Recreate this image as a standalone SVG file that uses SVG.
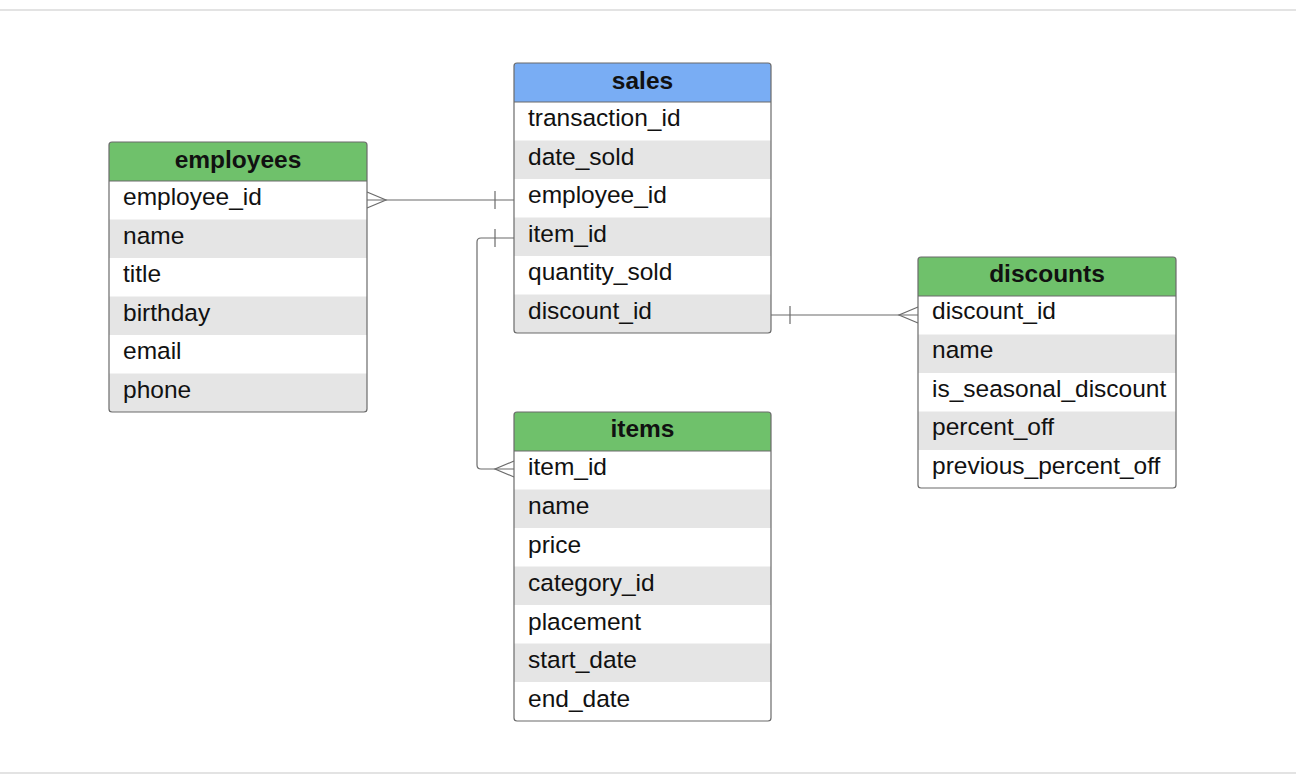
<svg xmlns="http://www.w3.org/2000/svg" width="1296" height="774" viewBox="0 0 1296 774">
<style>
.bg{fill:#ffffff}
.frame{stroke:#e3e3e3;stroke-width:2}
.hdr-g{fill:#6fc16b}
.hdr-b{fill:#79adf4}
.row{fill:#ffffff}
.alt{fill:#e5e5e5}
.box{fill:none;stroke:#6b6b6b;stroke-width:1.2}
.sep{stroke:#6b6b6b;stroke-width:1.2}
.ht{font-family:"Liberation Sans",Arial,sans-serif;font-size:24.5px;font-weight:bold;fill:#111;text-anchor:middle}
.ft{font-family:"Liberation Sans",Arial,sans-serif;font-size:24.5px;fill:#111}
.conn{fill:none;stroke:#6b6b6b;stroke-width:1.2}
</style>
<rect class="bg" x="0" y="0" width="1296" height="774"/>
<line class="frame" x1="0" y1="10" x2="1296" y2="10"/>
<line class="frame" x1="0" y1="773" x2="1296" y2="773"/>

<g id="connectors">
  <path class="conn" d="M367,200 L514,200"/>
  <path class="conn" d="M367,192 L386,200 L367,208"/>
  <path class="conn" d="M495,191 L495,209"/>
  <path class="conn" d="M514,238 L481,238 Q477,238 477,242 L477,465 Q477,469 481,469 L514,469"/>
  <path class="conn" d="M495,229 L495,247"/>
  <path class="conn" d="M514,461 L495,469 L514,477"/>
  <path class="conn" d="M771,315 L918,315"/>
  <path class="conn" d="M790,306 L790,324"/>
  <path class="conn" d="M918,307 L899,315 L918,323"/>
</g>

<g id="employees">
  <path class="hdr-g" d="M112,142 H364 Q367,142 367,145 V181 H109 V145 Q109,142 112,142 Z"/>
  <rect class="row" x="109" y="181" width="258" height="38.5"/>
  <rect class="alt" x="109" y="219.5" width="258" height="38.5"/>
  <rect class="row" x="109" y="258" width="258" height="38.5"/>
  <rect class="alt" x="109" y="296.5" width="258" height="38.5"/>
  <rect class="row" x="109" y="335" width="258" height="38.5"/>
  <rect class="alt" x="109" y="373.5" width="258" height="38.5"/>
  <line class="sep" x1="109" y1="181" x2="367" y2="181"/>
  <rect class="box" x="109" y="142" width="258" height="270" rx="3"/>
  <text class="ht" x="238" y="168">employees</text>
  <text class="ft" x="123" y="205">employee_id</text>
  <text class="ft" x="123" y="244">name</text>
  <text class="ft" x="123" y="282">title</text>
  <text class="ft" x="123" y="321">birthday</text>
  <text class="ft" x="123" y="359">email</text>
  <text class="ft" x="123" y="398">phone</text>
</g>

<g id="sales">
  <path class="hdr-b" d="M517,63 H768 Q771,63 771,66 V102 H514 V66 Q514,63 517,63 Z"/>
  <rect class="row" x="514" y="102" width="257" height="38.5"/>
  <rect class="alt" x="514" y="140.5" width="257" height="38.5"/>
  <rect class="row" x="514" y="179" width="257" height="38.5"/>
  <rect class="alt" x="514" y="217.5" width="257" height="38.5"/>
  <rect class="row" x="514" y="256" width="257" height="38.5"/>
  <rect class="alt" x="514" y="294.5" width="257" height="38.5"/>
  <line class="sep" x1="514" y1="102" x2="771" y2="102"/>
  <rect class="box" x="514" y="63" width="257" height="270" rx="3"/>
  <text class="ht" x="642.5" y="89">sales</text>
  <text class="ft" x="528" y="126">transaction_id</text>
  <text class="ft" x="528" y="165">date_sold</text>
  <text class="ft" x="528" y="203">employee_id</text>
  <text class="ft" x="528" y="242">item_id</text>
  <text class="ft" x="528" y="280">quantity_sold</text>
  <text class="ft" x="528" y="319">discount_id</text>
</g>

<g id="discounts">
  <path class="hdr-g" d="M921,257 H1173 Q1176,257 1176,260 V296 H918 V260 Q918,257 921,257 Z"/>
  <rect class="row" x="918" y="296" width="258" height="38.5"/>
  <rect class="alt" x="918" y="334.5" width="258" height="38.5"/>
  <rect class="row" x="918" y="373" width="258" height="38.5"/>
  <rect class="alt" x="918" y="411.5" width="258" height="38.5"/>
  <rect class="row" x="918" y="450" width="258" height="38"/>
  <line class="sep" x1="918" y1="296" x2="1176" y2="296"/>
  <rect class="box" x="918" y="257" width="258" height="231" rx="3"/>
  <text class="ht" x="1047" y="282">discounts</text>
  <text class="ft" x="932" y="319">discount_id</text>
  <text class="ft" x="932" y="358">name</text>
  <text class="ft" x="932" y="397">is_seasonal_discount</text>
  <text class="ft" x="932" y="435">percent_off</text>
  <text class="ft" x="932" y="474">previous_percent_off</text>
</g>

<g id="items">
  <path class="hdr-g" d="M517,412 H768 Q771,412 771,415 V451 H514 V415 Q514,412 517,412 Z"/>
  <rect class="row" x="514" y="451" width="257" height="38.5"/>
  <rect class="alt" x="514" y="489.5" width="257" height="38.5"/>
  <rect class="row" x="514" y="528" width="257" height="38.5"/>
  <rect class="alt" x="514" y="566.5" width="257" height="38.5"/>
  <rect class="row" x="514" y="605" width="257" height="38.5"/>
  <rect class="alt" x="514" y="643.5" width="257" height="38.5"/>
  <rect class="row" x="514" y="682" width="257" height="39"/>
  <line class="sep" x1="514" y1="451" x2="771" y2="451"/>
  <rect class="box" x="514" y="412" width="257" height="309" rx="3"/>
  <text class="ht" x="642.5" y="437">items</text>
  <text class="ft" x="528" y="475">item_id</text>
  <text class="ft" x="528" y="514">name</text>
  <text class="ft" x="528" y="553">price</text>
  <text class="ft" x="528" y="591">category_id</text>
  <text class="ft" x="528" y="630">placement</text>
  <text class="ft" x="528" y="668">start_date</text>
  <text class="ft" x="528" y="707">end_date</text>
</g>
</svg>
